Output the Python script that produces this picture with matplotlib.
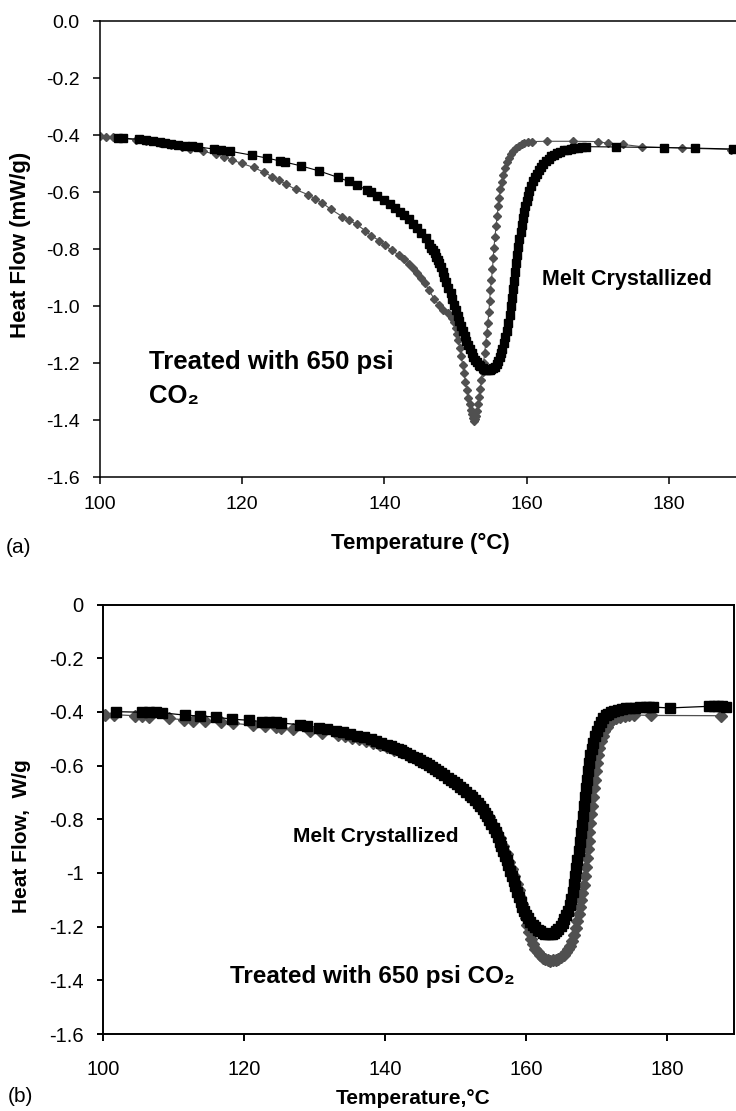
"""
DSC melting endotherms: melt crystallized vs. treated with 650 psi CO2.
Two stacked panels (a) and (b), saved as out.png.
"""
import matplotlib
matplotlib.use("Agg")
import matplotlib.pyplot as plt

plt.rcParams["font.family"] = ["Liberation Sans", "DejaVu Sans"]

# ---- panel (a) data ----
a_melt_T = [102.6, 103.2, 105.5, 106.5, 107.5, 108.4, 109.2, 110.0, 111.0, 112.0,
            113.0, 113.8, 116.0, 117.0, 118.3, 121.4, 123.5, 125.3, 126.0, 128.2,
            130.8, 133.5, 135.0, 136.1, 137.5, 138.1, 139.0, 140.0, 140.8, 141.5,
            142.2, 142.8, 143.4, 144.0, 144.6, 145.2, 145.8, 146.3, 146.6, 146.8,
            147.1, 147.3, 147.5, 147.7, 147.9, 148.2, 148.4, 148.7, 149.0, 149.3,
            149.5, 149.8, 150.0, 150.3, 150.5, 150.8, 151.0, 151.3, 151.5, 151.8,
            152.0, 152.3, 152.5, 152.8, 153.0, 153.3, 153.5, 153.8, 154.0, 154.3,
            154.5, 154.8, 155.0, 155.3, 155.5, 155.8, 156.0, 156.2, 156.4, 156.6,
            156.8, 157.0, 157.2, 157.4, 157.6, 157.8, 157.95, 158.1, 158.25, 158.4,
            158.55, 158.7, 158.85, 159.0, 159.15, 159.3, 159.45, 159.6, 159.8, 160.0,
            160.2, 160.4, 160.65, 160.9, 161.15, 161.4, 161.7, 162.0, 162.35, 162.7,
            163.1, 163.5, 163.9, 164.3, 164.7, 165.2, 165.7, 166.2, 166.7, 167.2,
            167.8, 168.4, 172.6, 179.3, 183.7, 189.0]
a_melt_HF = [-0.410, -0.410, -0.414, -0.416, -0.420, -0.424, -0.427, -0.430, -0.433, -0.436,
             -0.439, -0.441, -0.448, -0.451, -0.456, -0.470, -0.480, -0.490, -0.494, -0.507,
             -0.525, -0.548, -0.562, -0.574, -0.592, -0.600, -0.612, -0.628, -0.641, -0.654,
             -0.668, -0.681, -0.695, -0.710, -0.726, -0.743, -0.762, -0.782, -0.795, -0.803,
             -0.815, -0.826, -0.838, -0.850, -0.864, -0.880, -0.897, -0.915, -0.935, -0.955,
             -0.975, -0.995, -1.015, -1.035, -1.052, -1.070, -1.088, -1.105, -1.122, -1.138,
             -1.152, -1.165, -1.177, -1.188, -1.197, -1.205, -1.211, -1.217, -1.220, -1.223,
             -1.224, -1.224, -1.222, -1.218, -1.212, -1.203, -1.192, -1.180, -1.166, -1.150,
             -1.131, -1.110, -1.086, -1.060, -1.031, -1.000, -0.970, -0.940, -0.910, -0.880,
             -0.850, -0.820, -0.792, -0.765, -0.740, -0.715, -0.692, -0.670, -0.650, -0.630,
             -0.612, -0.595, -0.578, -0.562, -0.548, -0.535, -0.522, -0.510, -0.500, -0.490,
             -0.482, -0.474, -0.468, -0.462, -0.457, -0.453, -0.450, -0.447, -0.445, -0.443,
             -0.441, -0.440, -0.441, -0.443, -0.445, -0.448]

a_co2_T = [100.0, 100.8, 101.8, 103.0, 105.0, 106.5, 108.4, 110.0, 111.5, 112.7,
           114.5, 116.3, 117.5, 118.6, 120.0, 121.6, 123.0, 124.2, 125.2, 126.2,
           127.5, 129.2, 130.2, 131.2, 132.5, 134.1, 135.0, 136.1, 137.3, 138.1,
           139.3, 140.1, 141.0, 142.0, 142.8, 143.5, 144.0, 144.6, 145.2, 145.7,
           146.3, 147.0, 147.7, 148.3, 149.0, 149.5, 149.8, 150.0, 150.2, 150.4,
           150.6, 150.8, 151.0, 151.2, 151.4, 151.6, 151.8, 152.0, 152.15, 152.3,
           152.45, 152.6, 152.75, 152.9, 153.05, 153.2, 153.35, 153.5, 153.65, 153.8,
           153.95, 154.1, 154.25, 154.4, 154.55, 154.7, 154.8, 154.9, 155.05, 155.2,
           155.3, 155.4, 155.55, 155.7, 155.85, 156.0, 156.15, 156.3, 156.5, 156.7,
           156.95, 157.2, 157.5, 157.8, 158.1, 158.5, 158.9, 159.3, 159.7, 160.2,
           160.7, 162.8, 166.5, 170.0, 171.4, 173.5, 176.2, 181.9, 188.8]
a_co2_HF = [-0.404, -0.405, -0.407, -0.410, -0.416, -0.420, -0.427, -0.433, -0.440, -0.447,
            -0.456, -0.467, -0.477, -0.487, -0.499, -0.513, -0.529, -0.545, -0.558, -0.572,
            -0.590, -0.608, -0.622, -0.637, -0.660, -0.686, -0.698, -0.713, -0.735, -0.752,
            -0.770, -0.787, -0.803, -0.820, -0.835, -0.852, -0.866, -0.882, -0.900, -0.920,
            -0.945, -0.975, -0.997, -1.012, -1.025, -1.040, -1.055, -1.075, -1.097, -1.120,
            -1.147, -1.175, -1.205, -1.235, -1.265, -1.295, -1.322, -1.345, -1.364, -1.380,
            -1.394, -1.403, -1.398, -1.385, -1.367, -1.345, -1.318, -1.290, -1.260, -1.230,
            -1.198, -1.165, -1.130, -1.095, -1.058, -1.020, -0.983, -0.945, -0.908, -0.870,
            -0.832, -0.795, -0.757, -0.720, -0.685, -0.650, -0.620, -0.590, -0.563, -0.540,
            -0.516, -0.495, -0.478, -0.465, -0.454, -0.445, -0.437, -0.432, -0.428, -0.425,
            -0.422, -0.421, -0.421, -0.422, -0.428, -0.432, -0.440, -0.445, -0.450]

# ---- panel (b) data ----
b_melt_T = [101.9, 105.5, 106.5, 107.5, 108.3, 111.7, 113.7, 116.0, 118.3, 120.7,
            122.5, 123.5, 124.5, 125.3, 128.0, 129.0, 130.7, 131.8, 133.0, 134.0,
            135.0, 136.0, 137.0, 138.0, 138.7, 139.5, 140.3, 140.8, 141.3, 141.8,
            142.2, 142.6, 143.0, 143.5, 144.0, 144.5, 145.0, 145.4, 145.8, 146.2,
            146.7, 147.1, 147.5, 148.0, 148.4, 148.9, 149.3, 149.8, 150.2, 150.6,
            151.0, 151.5, 152.0, 152.4, 152.8, 153.2, 153.5, 153.9, 154.2, 154.5,
            154.8, 155.1, 155.4, 155.7, 156.0, 156.25, 156.5, 156.75, 157.0, 157.25,
            157.5, 157.75, 158.0, 158.25, 158.5, 158.75, 159.0, 159.25, 159.5, 159.75,
            160.0, 160.3, 160.6, 160.95, 161.3, 161.65, 162.0, 162.35, 162.7, 163.05,
            163.4, 163.7, 164.0, 164.3, 164.6, 164.9, 165.2, 165.45, 165.7, 165.95,
            166.2, 166.4, 166.6, 166.8, 167.0, 167.15, 167.3, 167.45, 167.6, 167.75,
            167.9, 168.05, 168.2, 168.35, 168.5, 168.65, 168.8, 168.95, 169.1, 169.3,
            169.5, 169.75, 170.0, 170.3, 170.6, 170.95, 171.3, 171.65, 172.0, 172.5,
            173.0, 173.6, 174.2, 174.8, 175.5, 176.2, 177.0, 177.5, 178.0, 180.4,
            186.0, 186.6, 187.2, 187.8, 188.4]
b_melt_HF = [-0.399, -0.401, -0.401, -0.402, -0.403, -0.412, -0.415, -0.419, -0.427, -0.431,
             -0.436, -0.437, -0.439, -0.441, -0.448, -0.451, -0.460, -0.465, -0.471, -0.476,
             -0.482, -0.488, -0.494, -0.501, -0.507, -0.514, -0.522, -0.527, -0.533, -0.538,
             -0.543, -0.548, -0.553, -0.559, -0.566, -0.573, -0.580, -0.586, -0.592, -0.598,
             -0.605, -0.612, -0.619, -0.628, -0.636, -0.645, -0.653, -0.662, -0.670, -0.678,
             -0.687, -0.697, -0.708, -0.718, -0.728, -0.739, -0.750, -0.762, -0.775, -0.788,
             -0.802, -0.817, -0.832, -0.849, -0.866, -0.883, -0.900, -0.917, -0.935, -0.953,
             -0.972, -0.991, -1.010, -1.030, -1.050, -1.070, -1.090, -1.108, -1.125, -1.141,
             -1.155, -1.169, -1.182, -1.193, -1.203, -1.211, -1.218, -1.223, -1.227, -1.229,
             -1.229, -1.226, -1.222, -1.216, -1.208, -1.198, -1.186, -1.173, -1.158, -1.140,
             -1.120, -1.096, -1.070, -1.042, -1.012, -0.981, -0.950, -0.918, -0.885, -0.852,
             -0.820, -0.786, -0.752, -0.718, -0.685, -0.652, -0.620, -0.590, -0.562, -0.537,
             -0.515, -0.491, -0.470, -0.452, -0.436, -0.424, -0.413, -0.406, -0.400, -0.396,
             -0.392, -0.389, -0.387, -0.385, -0.384, -0.383, -0.382, -0.382, -0.382, -0.385,
             -0.379, -0.379, -0.379, -0.379, -0.380]

b_co2_T = [100.3, 101.5, 104.5, 105.5, 106.5, 109.3, 111.5, 112.7, 114.5, 116.7,
           118.5, 121.3, 123.0, 124.5, 125.3, 127.0, 129.3, 131.0, 133.3, 134.3,
           135.3, 136.3, 137.3, 138.3, 139.3, 140.3, 141.3, 142.3, 143.3, 144.3,
           145.3, 146.3, 147.3, 148.3, 149.3, 150.2, 151.0, 151.9, 152.7, 153.4,
           154.0, 154.7, 155.3, 155.8, 156.3, 156.8, 157.3, 157.65, 158.0, 158.35,
           158.7, 158.95, 159.2, 159.45, 159.7, 159.95, 160.2, 160.45, 160.7, 161.0,
           161.3, 161.65, 162.0, 162.35, 162.7, 163.05, 163.4, 163.8, 164.2, 164.6,
           165.0, 165.35, 165.7, 166.0, 166.3, 166.55, 166.8, 167.05, 167.3, 167.5,
           167.7, 167.85, 168.0, 168.2, 168.4, 168.55, 168.7, 168.8, 168.9, 169.0,
           169.1, 169.2, 169.3, 169.45, 169.6, 169.75, 169.9, 170.05, 170.2, 170.4,
           170.6, 170.85, 171.1, 171.45, 171.8, 172.25, 172.7, 173.35, 174.0, 174.65,
           175.3, 177.7, 187.6]
b_co2_HF = [-0.410, -0.410, -0.414, -0.416, -0.418, -0.423, -0.430, -0.433, -0.435, -0.438,
            -0.442, -0.450, -0.453, -0.456, -0.459, -0.464, -0.471, -0.477, -0.487, -0.491,
            -0.496, -0.502, -0.508, -0.515, -0.522, -0.531, -0.540, -0.550, -0.560, -0.572,
            -0.585, -0.600, -0.615, -0.632, -0.650, -0.667, -0.685, -0.704, -0.724, -0.744,
            -0.765, -0.792, -0.820, -0.845, -0.870, -0.900, -0.930, -0.958, -0.985, -1.012,
            -1.040, -1.065, -1.090, -1.115, -1.140, -1.168, -1.195, -1.220, -1.245, -1.265,
            -1.282, -1.296, -1.307, -1.315, -1.321, -1.325, -1.327, -1.326, -1.323, -1.319,
            -1.313, -1.305, -1.295, -1.285, -1.272, -1.253, -1.230, -1.205, -1.180, -1.152,
            -1.125, -1.100, -1.075, -1.043, -1.010, -0.978, -0.945, -0.912, -0.880, -0.848,
            -0.815, -0.782, -0.750, -0.718, -0.685, -0.652, -0.620, -0.590, -0.560, -0.535,
            -0.510, -0.490, -0.470, -0.455, -0.440, -0.431, -0.424, -0.419, -0.415, -0.413,
            -0.411, -0.413, -0.414]

x_ticks = [100, 120, 140, 160, 180]
y_ticks = [0.0, -0.2, -0.4, -0.6, -0.8, -1.0, -1.2, -1.4, -1.6]
a_ylabels = ["0.0", "-0.2", "-0.4", "-0.6", "-0.8", "-1.0", "-1.2", "-1.4", "-1.6"]
b_ylabels = ["0", "-0.2", "-0.4", "-0.6", "-0.8", "-1", "-1.2", "-1.4", "-1.6"]

GRAY = "#505050"
W, H = 736, 1111

fig = plt.figure(figsize=(W / 100, H / 100), dpi=100)


def fx(px):
    return px / W


def fy(py):
    return 1 - py / H


# ---- panel (a) ----
ax1 = fig.add_axes([fx(100), fy(477), fx(636), (477 - 21.4) / H])
ax1.plot(a_co2_T, a_co2_HF, color=GRAY, lw=0.8, marker="D", ms=4.2,
         mfc=GRAY, mec=GRAY)
ax1.plot(a_melt_T, a_melt_HF, color="black", lw=0.8, marker="s", ms=5.2,
         mfc="black", mec="black")
ax1.set_xlim(100, 189.45)
ax1.set_ylim(-1.6, 0.0)
ax1.set_xticks(x_ticks)
ax1.set_yticks(y_ticks)
ax1.set_yticklabels(a_ylabels)
ax1.spines["right"].set_visible(False)
for s in ["left", "top", "bottom"]:
    ax1.spines[s].set_linewidth(1.1)
ax1.tick_params(axis="y", direction="out", length=5, width=1.1, pad=9.5, labelsize=14)
ax1.tick_params(axis="x", direction="out", length=5, width=1.1, pad=9, labelsize=14)

fig.text(fx(149), fy(362), "Treated with 650 psi", fontsize=18.5,
         fontweight="bold", va="center")
fig.text(fx(149), fy(396), "CO₂", fontsize=18.5, fontweight="bold", va="center")
fig.text(fx(542), fy(279), "Melt Crystallized", fontsize=15.5, fontweight="bold",
         va="center")
fig.text(fx(21), fy(245), "Heat Flow (mW/g)", rotation=90, fontsize=16,
         fontweight="bold", ha="center", va="center")
fig.text(fx(420), fy(543), "Temperature (°C)", fontsize=16, fontweight="bold",
         ha="center", va="center")
fig.text(fx(6), fy(548), "(a)", fontsize=15, va="center")

# ---- panel (b) ----
ax2 = fig.add_axes([fx(103), fy(1034), fx(631), (1034 - 604.6) / H])
ax2.plot(b_co2_T, b_co2_HF, color=GRAY, lw=0.9, marker="D", ms=6.5,
         mfc=GRAY, mec=GRAY)
ax2.plot(b_melt_T, b_melt_HF, color="black", lw=0.9, marker="s", ms=7.5,
         mfc="black", mec="black")
ax2.set_xlim(100, 189.5)
ax2.set_ylim(-1.6, 0.0)
ax2.set_xticks(x_ticks)
ax2.set_yticks(y_ticks)
ax2.set_yticklabels(b_ylabels)
for s in ax2.spines.values():
    s.set_linewidth(1.4)
ax2.tick_params(axis="y", direction="out", length=4.5, width=1.4, pad=9.5, labelsize=14.5)
ax2.tick_params(axis="x", direction="out", length=5, width=1.4, pad=14, labelsize=14.5)

fig.text(fx(293), fy(836), "Melt Crystallized", fontsize=15, fontweight="bold",
         va="center")
fig.text(fx(230), fy(976), "Treated with 650 psi CO₂", fontsize=17.5,
         fontweight="bold", va="center")
fig.text(fx(22), fy(836), "Heat Flow,  W/g", rotation=90, fontsize=15,
         fontweight="bold", ha="center", va="center")
fig.text(fx(413), fy(1099), "Temperature,°C", fontsize=15, fontweight="bold",
         ha="center", va="center")
fig.text(fx(8), fy(1097), "(b)", fontsize=15, va="center")

fig.savefig("out.png", dpi=100)
